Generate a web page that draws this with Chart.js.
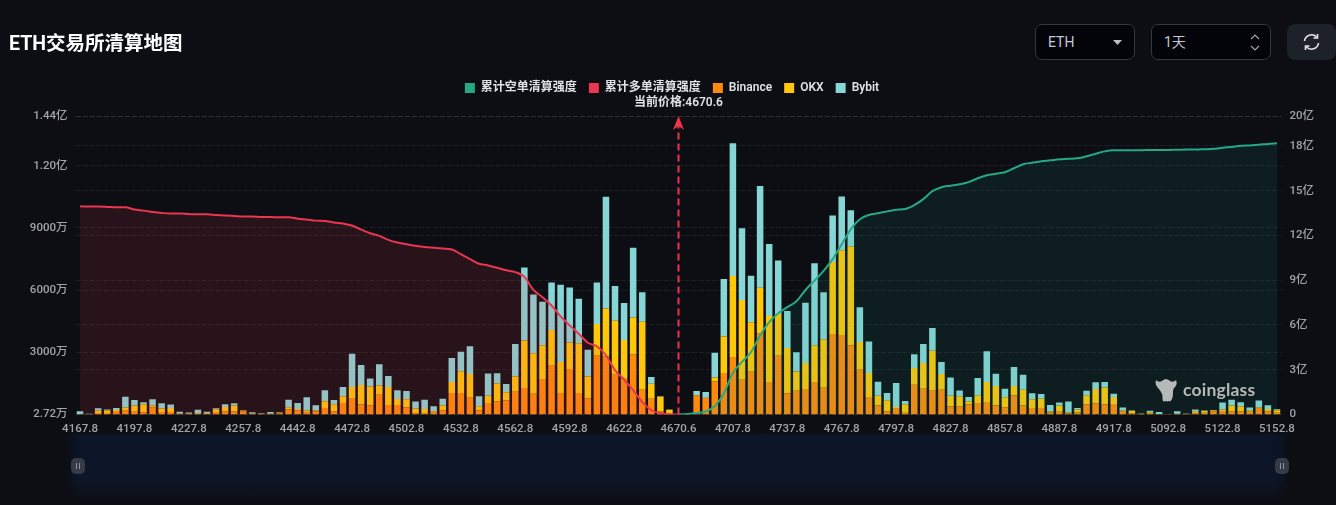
<!DOCTYPE html>
<html lang="zh-CN">
<head>
  <meta charset="UTF-8">
  <title>ETH交易所清算地图</title>
  <script src="https://cdn.jsdelivr.net/npm/chart.js"></script>
  <style>
    html, body {
      margin: 0;
      height: 100%;
      overflow: hidden;
      background-color: #0c0e14;
      font-family: Roboto, "Noto Sans CJK SC", sans-serif;
    }
    #page {
      position: relative;
      width: 1336px;
      height: 505px;
    }
    #heatmap {
      position: absolute;
      left: 0;
      top: 0;
    }
    h1 {
      position: absolute;
      left: 9px;
      top: 30px;
      margin: 0;
      font-size: 19.5px;
      line-height: 28px;
      font-weight: 700;
      color: #fff;
    }
    .select {
      position: absolute;
      top: 24px;
      height: 34px;
      line-height: 34px;
      background: #030409;
      border: 1px solid #34373f;
      border-radius: 7px;
      color: #c3c8d6;
      font-size: 14px;
      text-indent: 12px;
    }
    .select svg {
      position: absolute;
      top: 0;
    }
    #refresh {
      position: absolute;
      left: 1287px;
      top: 24px;
      width: 49px;
      height: 36px;
      background: #1d2128;
      border-radius: 8px;
    }
    /* zoom strip under the x axis */
    #slider {
      position: absolute;
      left: 66px;
      top: 434px;
      width: 1224px;
      height: 66px;
      background: linear-gradient(#0c1526 0%, #0d1628 70%, #0c0e14 100%);
      -webkit-mask-image: linear-gradient(90deg, transparent 0, #000 12px, #000 1212px, transparent 100%);
      mask-image: linear-gradient(90deg, transparent 0, #000 12px, #000 1212px, transparent 100%);
    }
    .handle {
      position: absolute;
      top: 458px;
      width: 14px;
      height: 16px;
      background: #373b47;
      border-radius: 5px;
    }
    .handle::before {
      content: "";
      position: absolute;
      left: 5px;
      top: 5px;
      width: 1px;
      height: 6px;
      background: #8d92a0;
      box-shadow: 3px 0 0 #8d92a0;
    }
    #logo {
      position: absolute;
      left: 1183px;
      top: 378px;
      font: 700 17.5px/24px Lato, Roboto, sans-serif;
      color: #b5b9ba;
      letter-spacing: 0.2px;
    }
    #logoMark {
      position: absolute;
      left: 1155px;
      top: 377px;
    }
  </style>
</head>
<body>
<div id="page">
  <div id="slider"></div>
  <canvas id="heatmap" width="1336" height="505"></canvas>
  <h1>ETH交易所清算地图</h1>

  <div class="select" style="left:1035px;width:98px;">ETH
    <svg style="left:76px" width="12" height="34"><path d="M1 15h9l-4.5 5z" fill="#b9bdc8"/></svg>
  </div>
  <div class="select" style="left:1151px;width:118px;">1天
    <svg style="left:97px" width="12" height="34"><path d="M2 14l4-4 4 4M2 21l4 4 4-4" fill="none" stroke="#9ea3ae" stroke-width="1.2"/></svg>
  </div>
  <div id="refresh">
    <svg width="49" height="36" fill="none" stroke="#e6e8ec" stroke-width="1.6">
      <path d="M17.500 17a7 7 0 0 1 12-4M31.500 19a7 7 0 0 1-12 4"/>
      <path d="M30.500 10v4h-4M18.500 26v-4h4"/>
    </svg>
  </div>

  <div class="handle" style="left:71px"></div>
  <div class="handle" style="left:1275px"></div>

  <svg id="logoMark" width="22" height="27" fill="#b5b9ba">
    <path d="M1 3c2 2 4 2 6 1 1-1 3-2 4-2s3 1 4 2c2 1 4 1 6-1 1 2 1 5-1 7-1 1-2 2-2 4 0 3 0 5-1 8-1 2-2 3-3 2-1 0-2 1-3 0-1 0-2 1-3 0-1-2 0-4-1-7-1-2-2-4-4-6C1 9 0 6 1 3z"/>
  </svg>
  <div id="logo">coinglass</div>
</div>

<script>
  const categories = [
    4167.8, 4172.8, 4177.8, 4182.8, 4187.8, 4192.8, 4197.8, 4202.8, 4207.8, 4212.8,
    4217.8, 4222.8, 4227.8, 4232.8, 4237.8, 4242.8, 4247.8, 4252.8, 4257.8, 4417.8,
    4422.8, 4427.8, 4432.8, 4437.8, 4442.8, 4447.8, 4452.8, 4457.8, 4462.8, 4467.8,
    4472.8, 4477.8, 4482.8, 4487.8, 4492.8, 4497.8, 4502.8, 4507.8, 4512.8, 4517.8,
    4522.8, 4527.8, 4532.8, 4537.8, 4542.8, 4547.8, 4552.8, 4557.8, 4562.8, 4567.8,
    4572.8, 4577.8, 4582.8, 4587.8, 4592.8, 4597.8, 4602.8, 4607.8, 4612.8, 4617.8,
    4622.8, 4627.8, 4632.8, 4637.8, 4642.8, 4647.8, 4670.6, 4682.8, 4687.8, 4692.8,
    4697.8, 4702.8, 4707.8, 4712.8, 4717.8, 4722.8, 4727.8, 4732.8, 4737.8, 4742.8,
    4747.8, 4752.8, 4757.8, 4762.8, 4767.8, 4772.8, 4777.8, 4782.8, 4787.8, 4792.8,
    4797.8, 4802.8, 4807.8, 4812.8, 4817.8, 4822.8, 4827.8, 4832.8, 4837.8, 4842.8,
    4847.8, 4852.8, 4857.8, 4862.8, 4867.8, 4872.8, 4877.8, 4882.8, 4887.8, 4892.8,
    4897.8, 4902.8, 4907.8, 4912.8, 4917.8, 4922.8, 4927.8, 5067.8, 5072.8, 5077.8,
    5092.8, 5097.8, 5102.8, 5107.8, 5112.8, 5117.8, 5122.8, 5127.8, 5132.8, 5137.8,
    5142.8, 5147.8, 5152.8
  ];
  const currentPrice = 4670.6;

  // per price level, in 万
  const binance = [
    15, 10, 72, 72, 168, 178, 130, 96, 350, 120,
    120, 24, 24, 24, 24, 120, 144, 144, 144, 24,
    19, 14, 48, 240, 206, 82, 158, 322, 158, 562,
    768, 480, 432, 960, 466, 466, 350, 48, 34, 82,
    206, 1042, 1042, 816, 192, 562, 638, 672, 1104, 1282,
    1008, 1680, 2352, 1008, 2194, 1042, 782, 2832, 2798, 1920,
    1762, 2914, 1200, 768, 144, 24, 0, 5, 912, 802,
    1598, 2002, 2736, 1680, 2064, 3922, 1570, 2832, 1022, 1152,
    1234, 1570, 1296, 3888, 3840, 3346, 2160, 850, 432, 144,
    322, 82, 1440, 1248, 1152, 1200, 398, 398, 480, 562,
    610, 432, 350, 926, 432, 322, 322, 96, 130, 62,
    96, 480, 542, 480, 514, 130, 62, 24, 34, 14,
    5, 14, 34, 58, 86, 158, 168, 158, 158, 130,
    322, 158, 86
  ];
  const okx = [
    15, 10, 120, 120, 48, 158, 302, 398, 82, 168,
    192, 24, 24, 34, 34, 134, 216, 288, 48, 24,
    19, 19, 48, 110, 62, 110, 34, 322, 336, 322,
    562, 946, 926, 446, 864, 288, 384, 240, 240, 82,
    226, 528, 1042, 1138, 206, 350, 864, 398, 734, 2290,
    1954, 1666, 1728, 1522, 1282, 2400, 1056, 1536, 2318, 2606,
    1838, 1762, 3278, 720, 720, 206, 0, 5, 14, 14,
    192, 1762, 3950, 3840, 2386, 2194, 3182, 2016, 2194, 926,
    1248, 1776, 2338, 3470, 4080, 4766, 1344, 1152, 480, 542,
    48, 418, 802, 1234, 1920, 754, 514, 480, 158, 370,
    960, 946, 480, 446, 768, 418, 446, 48, 302, 34,
    144, 446, 686, 830, 336, 62, 110, 14, 82, 14,
    5, 24, 10, 96, 82, 48, 72, 274, 240, 82,
    14, 110, 120
  ];
  const bybit = [
    130, 15, 110, 48, 106, 528, 274, 96, 302, 254,
    168, 82, 48, 168, 72, 48, 134, 110, 14, 62,
    24, 96, 14, 365, 288, 638, 254, 528, 206, 446,
    1598, 960, 384, 1022, 528, 418, 398, 336, 446, 240,
    336, 1152, 946, 1344, 480, 1070, 494, 398, 1570, 3518,
    2832, 2098, 2290, 3730, 2654, 2146, 1282, 2002, 5390, 1680,
    1776, 3374, 1426, 322, 14, 10, 0, 5, 211, 274,
    1186, 2770, 6398, 3470, 2242, 4910, 3470, 2578, 1776, 926,
    2914, 3950, 2270, 2242, 2592, 1742, 1666, 1522, 672, 350,
    1152, 158, 672, 926, 1104, 576, 878, 288, 206, 830,
    1488, 590, 418, 926, 720, 288, 226, 322, 144, 528,
    82, 226, 336, 259, 158, 144, 19, 10, 62, 101,
    5, 120, 5, 86, 24, 19, 336, 288, 192, 125,
    336, 178, 48
  ];

  // cumulative strength in 亿, long side runs up to the current price, short side starts there
  const cumulativeLong = [
    13.95, 13.93, 13.93, 13.91, 13.88, 13.88, 13.73, 13.66, 13.57, 13.50,
    13.46, 13.46, 13.43, 13.41, 13.41, 13.37, 13.34, 13.30, 13.26, 13.26,
    13.23, 13.23, 13.21, 13.21, 13.12, 13.06, 12.99, 12.97, 12.86, 12.79,
    12.66, 12.39, 12.14, 11.97, 11.70, 11.52, 11.41, 11.30, 11.23, 11.17,
    11.12, 11.06, 10.74, 10.41, 10.10, 9.99, 9.83, 9.66, 9.54, 9.22,
    8.35, 7.86, 7.30, 6.57, 5.97, 5.41, 4.81, 4.57, 3.97, 2.97,
    2.34, 1.63, 0.85, 0.30, 0.08, 0.02, 0
  ];
  const cumulativeShort = [
    0, 0.03, 0.1, 0.2, 0.57, 1.41, 2.79, 3.52, 4.19, 5.3,
    6.19, 6.79, 7.19, 7.59, 8.34, 8.97, 9.63, 10.41, 11.41, 12.41,
    13.08, 13.37, 13.48, 13.61, 13.72, 13.77, 14.03, 14.43, 14.97, 15.23,
    15.33, 15.43, 15.57, 15.83, 16.03, 16.13, 16.23, 16.5, 16.77, 16.87,
    16.97, 17.03, 17.1, 17.13, 17.17, 17.3, 17.47, 17.63, 17.7, 17.7,
    17.71, 17.71, 17.72, 17.73, 17.73, 17.74, 17.75, 17.75, 17.77, 17.8,
    17.87, 17.93, 18.0, 18.03, 18.07, 18.13, 18.17
  ];

  const leftTicks = [2.72, 3000, 6000, 9000, 12000, 14400];
  const rightTicks = [0, 3, 6, 9, 12, 15, 18, 20];

  const labelColor = '#a0a4ab';
  const gridColor = 'rgba(255, 255, 255, 0.075)';
  const fontFamily = 'Roboto, "Noto Sans CJK SC", sans-serif';
  const tickFont = { family: fontFamily, size: 11.5, weight: '500' };

  function formatLeft(v) {
    if (v >= 10000) return (v / 10000).toFixed(2) + '亿';
    return v + '万';
  }

  // leading gap so the short side starts at the current price
  const shortSeries = categories.slice(0, categories.length - cumulativeShort.length)
    .map(() => null).concat(cumulativeShort);

  // red dashed arrow and caption at the current price
  const priceMarker = {
    id: 'priceMarker',
    afterDatasetsDraw(chart) {
      const { ctx, chartArea, scales } = chart;
      const x = scales.x.getPixelForValue(categories.indexOf(currentPrice));
      ctx.save();
      ctx.strokeStyle = '#ef3348';
      ctx.fillStyle = '#ef3348';
      ctx.lineWidth = 2;
      ctx.setLineDash([7, 4]);
      ctx.beginPath();
      ctx.moveTo(x, chartArea.bottom);
      ctx.lineTo(x, chartArea.top + 8);
      ctx.stroke();
      ctx.setLineDash([]);
      ctx.beginPath();
      ctx.moveTo(x, chartArea.top);
      ctx.lineTo(x + 5.5, chartArea.top + 14);
      ctx.lineTo(x, chartArea.top + 10);
      ctx.lineTo(x - 5.5, chartArea.top + 14);
      ctx.closePath();
      ctx.fill();
      ctx.fillStyle = '#dfe1e5';
      ctx.font = '600 12px ' + fontFamily;
      ctx.textAlign = 'center';
      ctx.textBaseline = 'middle';
      ctx.fillText('当前价格:' + currentPrice, x, 103);
      ctx.restore();
    }
  };

  // extra room between the legend and the plot
  const legendGap = {
    id: 'legendGap',
    beforeInit(chart) {
      const fit = chart.legend.fit;
      chart.legend.fit = function () {
        fit.call(this);
        this.height += 12;
      };
    }
  };

  new Chart(document.getElementById('heatmap'), {
    type: 'bar',
    data: {
      labels: categories,
      datasets: [
        {
          type: 'line',
          label: '累计空单清算强度',
          data: shortSeries,
          yAxisID: 'y2',
          order: 0,
          borderColor: '#26a886',
          backgroundColor: 'rgba(38, 168, 134, 0.11)',
          borderWidth: 2,
          pointRadius: 0,
          cubicInterpolationMode: 'monotone',
          fill: 'origin'
        },
        {
          type: 'line',
          label: '累计多单清算强度',
          data: cumulativeLong,
          yAxisID: 'y2',
          order: 0,
          borderColor: '#ea3650',
          backgroundColor: 'rgba(234, 54, 80, 0.13)',
          borderWidth: 2,
          pointRadius: 0,
          cubicInterpolationMode: 'monotone',
          fill: 'origin'
        },
        { label: 'Binance', data: binance, yAxisID: 'y', order: 1, backgroundColor: '#ff8a0a', borderColor: '#ff8a0a' },
        { label: 'OKX', data: okx, yAxisID: 'y', order: 1, backgroundColor: '#ffc70a', borderColor: '#ffc70a' },
        { label: 'Bybit', data: bybit, yAxisID: 'y', order: 1, backgroundColor: '#87d6d6', borderColor: '#87d6d6' }
      ]
    },
    options: {
      responsive: false,
      animation: false,
      layout: { padding: { top: 70, left: 8 } },
      categoryPercentage: 1,
      barPercentage: 0.72,
      plugins: {
        tooltip: { enabled: false },
        legend: {
          position: 'top',
          align: 'center',
          labels: {
            boxWidth: 10,
            boxHeight: 10,
            padding: 12,
            color: '#dfe1e5',
            font: { family: fontFamily, size: 12, weight: '600' },
            generateLabels(chart) {
              return Chart.defaults.plugins.legend.labels.generateLabels(chart).map((item, i) => {
                const color = chart.data.datasets[i].borderColor;
                return { ...item, fillStyle: color, strokeStyle: color, lineWidth: 0 };
              });
            }
          }
        }
      },
      scales: {
        x: {
          stacked: true,
          grid: { display: false, drawTicks: false },
          border: { display: false },
          afterFit(scale) { scale.height = 90.5; },
          ticks: {
            autoSkip: false,
            maxRotation: 0,
            padding: 8,
            color: labelColor,
            font: tickFont,
            callback(value, index) {
              return index % 6 === 0 ? categories[index] : '';
            }
          }
        },
        y: {
          stacked: true,
          position: 'left',
          min: 2.72,
          max: 14400,
          afterFit(scale) { scale.width = 67.5; },
          afterBuildTicks(scale) { scale.ticks = leftTicks.map(value => ({ value })); },
          grid: { color: gridColor, drawTicks: false },
          border: { display: false, dash: [5, 2] },
          ticks: {
            padding: 8,
            color: labelColor,
            font: tickFont,
            callback: formatLeft
          }
        },
        y2: {
          position: 'right',
          min: 0,
          max: 20,
          afterFit(scale) { scale.width = 54.5; },
          afterBuildTicks(scale) { scale.ticks = rightTicks.map(value => ({ value })); },
          grid: { color: gridColor, drawTicks: false },
          border: { display: false, dash: [5, 2] },
          ticks: {
            padding: 8,
            color: labelColor,
            font: tickFont,
            callback(v) { return v === 0 ? '0' : v + '亿'; }
          }
        }
      }
    },
    plugins: [priceMarker, legendGap]
  });
</script>
</body>
</html>
